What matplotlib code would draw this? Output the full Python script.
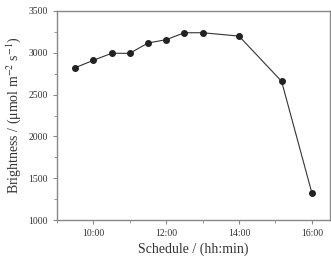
import matplotlib
matplotlib.use("Agg")
import matplotlib.pyplot as plt
from matplotlib.ticker import MultipleLocator, FuncFormatter

plt.rcParams['font.family'] = ['Liberation Serif', 'DejaVu Serif']
plt.rcParams['mathtext.fontset'] = 'stix'

# schedule in decimal hours, brightness in umol m-2 s-1
hours = [9.5, 10.0, 10.5, 11.0, 11.5, 12.0, 12.5, 13.0, 14.0, 15.17, 16.0]
brightness = [2822, 2910, 2994, 2994, 3117, 3157, 3240, 3240, 3200, 2659, 1327]

fig = plt.figure(figsize=(3.31, 2.58), dpi=100)
ax = fig.add_axes([57/331, 1 - 220/258, 273/331, 209/258])

ax.plot(hours, brightness, '-o', color='#333333', lw=0.8, ms=4,
        mfc='#222222', mec='#222222')

ax.set_xlim(9.0, 16.5)
ax.set_ylim(1000, 3500)
ax.xaxis.set_major_locator(MultipleLocator(2))
ax.xaxis.set_minor_locator(MultipleLocator(1))
ax.xaxis.set_major_formatter(FuncFormatter(lambda v, p: '%d:00' % v))
ax.yaxis.set_major_locator(MultipleLocator(500))
ax.yaxis.set_minor_locator(MultipleLocator(250))

for s in ax.spines.values():
    s.set_color('#888888')
    s.set_linewidth(1.0)
ax.tick_params(which='both', direction='out', color='#888888', labelsize=7,
               labelcolor='#333333', top=False, right=False)
ax.tick_params(which='major', length=3)
ax.tick_params(which='minor', length=2)

ax.set_xlabel('Schedule / (hh:min)', fontsize=10, color='#333333', labelpad=3)
ax.set_ylabel(r'Brightness / (μmol m$^{-2}$ s$^{-1}$)', fontsize=10,
              color='#333333', labelpad=4)

fig.savefig('out.png', dpi=100)
